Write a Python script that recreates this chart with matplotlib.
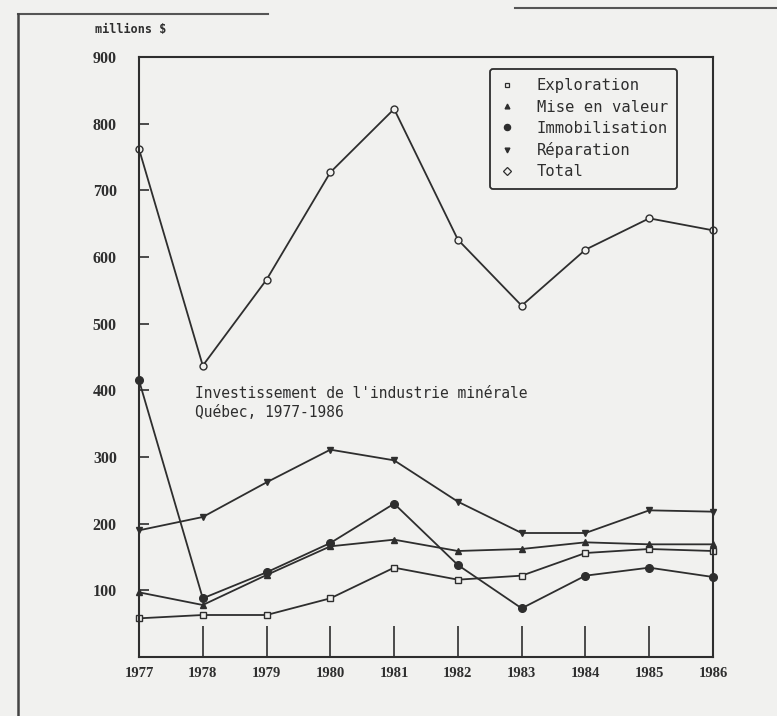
import matplotlib
matplotlib.use("Agg")
import matplotlib.pyplot as plt
from matplotlib.lines import Line2D

years = [1977, 1978, 1979, 1980, 1981, 1982, 1983, 1984, 1985, 1986]
exploration = [58, 63, 63, 88, 134, 116, 122, 156, 162, 159]
mise_en_valeur = [97, 78, 123, 166, 176, 159, 162, 172, 169, 169]
immobilisation = [415, 88, 127, 171, 230, 138, 73, 122, 134, 120]
reparation = [190, 210, 262, 311, 295, 233, 186, 186, 220, 218]
total = [762, 437, 566, 727, 822, 626, 527, 611, 658, 640]
yticks = [100, 200, 300, 400, 500, 600, 700, 800, 900]

bg = "#f1f1ef"
ink = "#2e2e2e"
fig = plt.figure(figsize=(7.77, 7.16), dpi=100, facecolor=bg)
ax = fig.add_axes([139/777, 1-657/716, (713-139)/777, (657-57)/716], facecolor=bg)

series = [
    ("Exploration", exploration, dict(marker="s", mfc=bg, ms=4.5)),
    ("Mise en valeur", mise_en_valeur, dict(marker="^", mfc=ink, ms=4.5)),
    ("Immobilisation", immobilisation, dict(marker="o", mfc=ink, ms=5.5)),
    ("Réparation", reparation, dict(marker="v", mfc=ink, ms=4.5)),
    ("Total", total, dict(marker="o", mfc=bg, ms=5)),
]
handles = []
for name, vals, st in series:
    ax.plot(years, vals, color=ink, lw=1.3, mec=ink, mew=1.0, clip_on=False, **st)
    handles.append(Line2D([], [], linestyle="none", color=ink, mec=ink, mew=0.9,
                          label=name, **{**st, "ms": st["ms"] - 1,
                                         "marker": ("D" if name == "Total" else st["marker"])}))

ax.set_xlim(1977, 1986)
ax.set_ylim(0, 900)
ax.set_yticks(yticks)
ax.set_xticks(years)
ax.tick_params(axis="y", direction="in", length=7, width=1.2, color=ink, labelsize=11.5,
               labelcolor=ink, pad=16)
ax.tick_params(axis="x", direction="in", length=22, width=1.2, color=ink, labelsize=10.5,
               labelcolor=ink, pad=7)
for lab in ax.get_xticklabels() + ax.get_yticklabels():
    lab.set_family("Liberation Serif")
    lab.set_fontweight("bold")
for s in ax.spines.values():
    s.set_color(ink)
    s.set_linewidth(1.5)

leg = ax.legend(handles=handles, loc="upper right", bbox_to_anchor=(0.9435, 0.985),
                prop={"family": "DejaVu Sans Mono", "size": 11.2}, frameon=True,
                fancybox=True, edgecolor=ink, facecolor=bg, framealpha=1,
                handlelength=1.0, handletextpad=1.4, labelspacing=0.4, borderpad=0.6,
                borderaxespad=0.2)
leg.get_frame().set_linewidth(1.3)
for t in leg.get_texts():
    t.set_color(ink)

ax.text(1977.88, 407, "Investissement de l'industrie minérale\nQuébec, 1977-1986",
        family="DejaVu Sans Mono", fontsize=10.5, color=ink, va="top", ha="left",
        linespacing=1.35)

fig.text(95/777, 1-30/716, "millions $", family="DejaVu Sans Mono", fontsize=8.5,
         fontweight="bold", color=ink, va="center", ha="left")

# scanned page frame lines
fig.add_artist(Line2D([18/777, 268/777], [1-14/716, 1-14/716], color="#555", lw=1.5))
fig.add_artist(Line2D([515/777, 1.0], [1-8/716, 1-8/716], color="#555", lw=1.5))
fig.add_artist(Line2D([18/777, 18/777], [1-14/716, 0], color="#444", lw=1.8))

fig.savefig("out.png", dpi=100, facecolor=bg)
